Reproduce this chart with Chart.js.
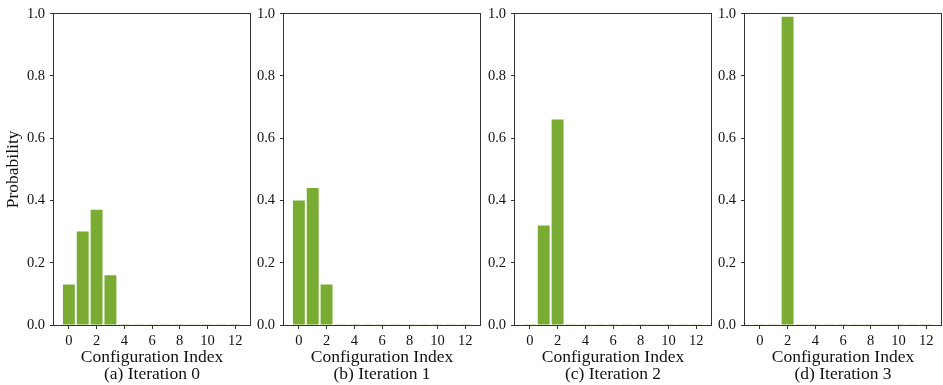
<!DOCTYPE html>
<html><head><meta charset="utf-8">
<script src="https://cdn.jsdelivr.net/npm/chart.js@4/dist/chart.umd.min.js"></script>
<style>
html,body{margin:0;padding:0;background:#fff;}
#wrap{position:relative;width:943px;height:385px;overflow:hidden;background:#fff;}
#wrap canvas{position:absolute;top:0;}
</style>
</head><body><div id="wrap"></div>
<script>
// ---- data ----
const configIndex = [0,1,2,3,4,5,6,7,8,9,10,11,12];
const iteration0 = [0.13,0.30,0.37,0.16,0.001,0.001,0.001,0.001,0.001,0.001,0.001,0.001,0.001];
const iteration1 = [0.40,0.44,0.13,0.001,0.001,0.001,0.001,0.001,0.001,0.001,0.001,0.001,0.001];
const iteration2 = [0.001,0.32,0.66,0.001,0.001,0.001,0.001,0.001,0.001,0.001,0.001,0.001,0.001];
const iteration3 = [0.001,0.001,0.99,0.001,0.001,0.001,0.001,0.001,0.001,0.001,0.001,0.001,0.001];
const captions = ['(a) Iteration 0','(b) Iteration 1','(c) Iteration 2','(d) Iteration 3'];
const xTickValues = [0,2,4,6,8,10,12];
const yTickValues = [0,0.2,0.4,0.6,0.8,1.0];
const xLabel = 'Configuration Index';
const yLabel = 'Probability';

// ---- layout ----
const H = 385;
const panels = [
  {left:54,  right:250, series:iteration0},
  {left:284, right:480, series:iteration1},
  {left:515, right:711, series:iteration2},
  {left:745, right:941, series:iteration3}
];
const FONT = "'Liberation Serif','Times New Roman',serif";
const BAR = '#7aab33';
const AX = '#333333';

const framePlugin = {
  id:'frame',
  afterDatasetsDraw(chart){
    const a = chart.chartArea, c = chart.ctx;
    c.save();
    c.strokeStyle = AX; c.lineWidth = 1;
    c.strokeRect(Math.round(a.left)-0.5, Math.round(a.top)-0.5,
                 Math.round(a.right)-Math.round(a.left)+1, Math.round(a.bottom)-Math.round(a.top)+1);
    c.restore();
  }
};

const wrap = document.getElementById('wrap');
panels.forEach((p, i) => {
  const first = i === 0;
  const yW = first ? p.left : 50;
  const cl = p.left - yW;
  const padR = 4;
  const cw = p.right - cl + padR;
  const cv = document.createElement('canvas');
  cv.width = cw; cv.height = H;
  cv.style.left = cl + 'px';
  cv.style.width = cw + 'px'; cv.style.height = H + 'px';
  wrap.appendChild(cv);
  new Chart(cv, {
    type:'bar',
    data:{
      datasets:[{
        data: configIndex.map((x, k) => ({x:x, y:p.series[k]})),
        backgroundColor: BAR,
        borderWidth: 0,
        barPercentage: 0.86,
        categoryPercentage: 1.0
      }]
    },
    options:{
      responsive:false, animation:false, devicePixelRatio:1,
      layout:{padding:{top:11, right:padR, bottom:0, left:0}},
      plugins:{legend:{display:false}, tooltip:{enabled:false}},
      scales:{
        x:{
          type:'linear', min:-1.073, max:13.073, offset:false,
          afterBuildTicks(s){ s.ticks = xTickValues.map(v => ({value:v})); },
          afterFit(s){ s.height = H - 325; },
          grid:{display:true, drawOnChartArea:false, drawTicks:true, tickLength:4, tickColor:AX, offset:false},
          border:{display:false},
          ticks:{color:'#111', padding:3, maxRotation:0, autoSkip:false,
                 font:{family:FONT, size:14.5}, callback:v => String(v)},
          title:{display:true, text:[xLabel, captions[i]], color:'#111',
                 font:{family:FONT, size:17.5, lineHeight:0.98}, padding:{top:0,bottom:2}}
        },
        y:{
          type:'linear', min:0, max:1,
          afterBuildTicks(s){ s.ticks = yTickValues.map(v => ({value:v})); },
          afterFit(s){ s.width = yW; },
          grid:{display:true, drawOnChartArea:false, drawTicks:true, tickLength:4, tickColor:AX},
          border:{display:false},
          ticks:{color:'#111', padding:5, font:{family:FONT, size:14.5},
                 callback:v => Number(v).toFixed(1)},
          title:{display:first, text:yLabel, color:'#111',
                 font:{family:FONT, size:17.5, lineHeight:1.0}, padding:{top:5,bottom:0}}
        }
      }
    },
    plugins:[framePlugin]
  });
});
</script>
</body></html>
